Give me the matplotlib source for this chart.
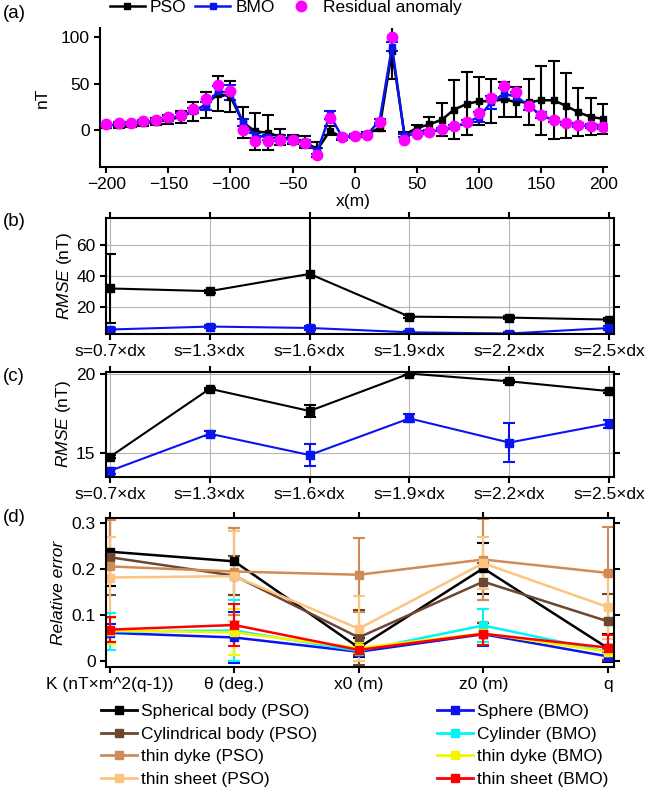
"""
Recreate the PSO / BMO comparison figure (four stacked panels)
"""
import numpy as np
from matplotlib import pyplot as plt
from matplotlib.lines import Line2D

# ---- panel (a): profile fit
x_prof = np.arange(-200, 201, 10)
resid = [6.5, 7, 8, 9.5, 11, 13.5, 16.5, 23, 33, 49, 42, 0, -12, -12, -11, -11, -14.5, -27, 13, -8,
         -6.5, -5, 9, 100, -11, -4, -2, 1, 4, 9, 18, 34, 47, 41, 26, 16, 11, 7, 5, 4, 3]
pso = [5, 5.5, 6, 7, 9, 11, 14, 20, 27, 39, 36, 8, -1.5, -3, -7.5, -10, -13, -21, -1, -8,
       -6.5, -5, 2.5, 85, -5, 2, 6, 11, 22, 28, 31, 31, 33, 30, 30, 32, 32, 26, 19, 14, 12]
pso_err = [3, 3, 3, 3, 4, 5, 6, 10, 14, 19, 17, 17, 20, 19, 9, 5, 6, 8, 5, 3,
           2, 3, 4, 30, 3, 3, 8, 18, 32, 34, 26, 24, 19, 16, 25, 37, 42, 35, 26, 20, 16]
bmo = [5.5, 6, 7, 8.5, 10, 12.5, 15.5, 21, 26, 42, 40, 8, -6, -8, -9, -11, -14, -23, 16, -8,
       -6.5, -5, 10, 90, -6, -4, -2, 0.5, 3, 8, 14, 30, 39, 36, 26, 16, 10.5, 7, 5, 4, 3]
bmo_err = [2, 2, 2, 2, 2, 3, 3, 3, 4, 5, 8, 4, 3, 3, 3, 3, 3, 3, 4, 2,
           2, 2, 2, 5, 2, 2, 2, 2, 2, 3, 5, 7, 6, 5, 4, 3, 2, 2, 2, 2, 2]

# ---- panels (b) and (c): RMSE vs window size
s_labels = ['s=0.7×dx', 's=1.3×dx', 's=1.6×dx', 's=1.9×dx', 's=2.2×dx', 's=2.5×dx']
rmse_b_pso = [32, 30.3, 41.4, 13.8, 13.2, 11.9]
rmse_b_pso_err = [22, 1, 40, 1, 1, 1]
rmse_b_bmo = [5.5, 7.4, 6.5, 3.7, 2.9, 6.5]
rmse_b_bmo_err = [1, 1, 1, 0.8, 0.8, 1]
rmse_c_pso = [14.78, 19.09, 17.68, 20.05, 19.56, 18.94]
rmse_c_pso_err = [0.1, 0.05, 0.4, 0.1, 0.1, 0.1]
rmse_c_bmo = [13.89, 16.24, 14.89, 17.21, 15.68, 16.88]
rmse_c_bmo_err = [0.2, 0.15, 0.7, 0.25, 1.25, 0.25]

# ---- panel (d): relative error per parameter
params = ['K (nT×m^2(q-1))', 'θ (deg.)', 'x0 (m)', 'z0 (m)', 'q']
sph_pso = [0.237, 0.216, 0.029, 0.201, 0.028]
sph_pso_err = [0.075, 0.072, 0.02, 0.055, 0.03]
cyl_pso = [0.225, 0.185, 0.051, 0.172, 0.086]
cyl_pso_err = [0.082, 0.042, 0.06, 0.04, 0.06]
dyke_pso = [0.205, 0.194, 0.187, 0.22, 0.191]
dyke_pso_err = [0.1, 0.095, 0.08, 0.088, 0.1]
sheet_pso = [0.181, 0.184, 0.07, 0.212, 0.117]
sheet_pso_err = [0.087, 0.098, 0.07, 0.056, 0.07]
sph_bmo = [0.061, 0.051, 0.02, 0.058, 0.01]
sph_bmo_err = [0.02, 0.055, 0.01, 0.025, 0.01]
cyl_bmo = [0.064, 0.066, 0.022, 0.077, 0.02]
cyl_bmo_err = [0.04, 0.067, 0.01, 0.035, 0.015]
dyke_bmo = [0.066, 0.062, 0.028, 0.06, 0.02]
dyke_bmo_err = [0.03, 0.05, 0.01, 0.025, 0.015]
sheet_bmo = [0.068, 0.078, 0.024, 0.059, 0.029]
sheet_bmo_err = [0.027, 0.045, 0.01, 0.024, 0.027]

W, H = 649, 796
FS = 12.5
plt.rcParams['font.family'] = ['Liberation Sans', 'DejaVu Sans']
plt.rcParams['font.size'] = FS
plt.rcParams['mathtext.fontset'] = 'custom'
plt.rcParams['mathtext.rm'] = 'Liberation Sans'
plt.rcParams['mathtext.it'] = 'Liberation Sans:italic'
plt.rcParams['axes.linewidth'] = 1.5


def box(left, top, right, bottom):
    """Axes rectangle from pixel edges"""
    return [left / W, 1 - bottom / H, (right - left) / W, (bottom - top) / H]


def style_ticks(ax, all_sides=True):
    ax.tick_params(direction='out', length=4, width=1.5, labelsize=FS,
                   top=all_sides, right=all_sides)


fig = plt.figure(figsize=(W / 100, H / 100), dpi=100)

# (a)
ax_a = fig.add_axes(box(100, 28, 607, 167))
ax_a.errorbar(x_prof, pso, yerr=pso_err, fmt='-s', color='black', ms=5, lw=1.8,
              elinewidth=1.5, capsize=4, capthick=1.5)
ax_a.errorbar(x_prof, bmo, yerr=bmo_err, fmt='-s', color='#0a14f0', ms=5, lw=1.8,
              elinewidth=1.5, capsize=4, capthick=1.5)
ax_a.plot(x_prof, resid, 'o', color='#ff00ff', ms=7.5, zorder=5)
ax_a.set_xlim(-205, 203)
ax_a.set_ylim(-40, 110)
ax_a.set_xticks([-200, -150, -100, -50, 0, 50, 100, 150, 200])
ax_a.set_yticks([0, 50, 100])
ax_a.spines['top'].set_visible(False)
ax_a.spines['right'].set_visible(False)
style_ticks(ax_a, all_sides=False)
ax_a.set_xlabel('x(m)', labelpad=1)
ax_a.set_ylabel('nT', labelpad=8)
handles = [Line2D([], [], color='black', marker='s', ms=5, lw=1.8),
           Line2D([], [], color='#0a14f0', marker='s', ms=5, lw=1.8),
           Line2D([], [], color='#ff00ff', marker='o', ms=7.5, lw=0)]
fig.legend(handles, ['PSO', 'BMO', 'Residual anomaly'], loc='upper left',
           bbox_to_anchor=(110 / W, 1.0), ncol=3, frameon=False, borderpad=0,
           borderaxespad=0, handlelength=2.0, handletextpad=0.3, columnspacing=0.5,
           fontsize=FS)

# (b) and (c)
for rect, pso_v, pso_e, bmo_v, bmo_e, ylim, yticks in [
        (box(106, 218, 614, 334), rmse_b_pso, rmse_b_pso_err, rmse_b_bmo, rmse_b_bmo_err,
         (2.6, 77.5), [20, 40, 60]),
        (box(106, 372, 614, 477), rmse_c_pso, rmse_c_pso_err, rmse_c_bmo, rmse_c_bmo_err,
         (13.5, 20.15), [15, 20])]:
    ax = fig.add_axes(rect)
    pos = np.arange(len(s_labels))
    ax.errorbar(pos, pso_v, yerr=pso_e, fmt='-s', color='black', ms=6, lw=1.5,
                elinewidth=1.5, capsize=4, capthick=1.5)
    ax.errorbar(pos, bmo_v, yerr=bmo_e, fmt='-s', color='#0a14f0', ms=6, lw=1.5,
                elinewidth=1.5, capsize=4, capthick=1.5)
    ax.set_xlim(-0.04, 5.05)
    ax.set_ylim(*ylim)
    ax.set_xticks(pos)
    ax.set_xticklabels(s_labels)
    ax.set_yticks(yticks)
    ax.grid(True, color='#b4b4b4', lw=0.8)
    ax.set_axisbelow(True)
    style_ticks(ax)
    ax.set_ylabel('$\\mathit{RMSE}$ (nT)', labelpad=2)

# (d)
ax_d = fig.add_axes(box(106, 518, 614, 667))
pos = np.arange(len(params))
series = [
    ('Spherical body (PSO)', sph_pso, sph_pso_err, 'black'),
    ('Cylindrical body (PSO)', cyl_pso, cyl_pso_err, '#6b4630'),
    ('thin dyke (PSO)', dyke_pso, dyke_pso_err, '#d08a56'),
    ('thin sheet (PSO)', sheet_pso, sheet_pso_err, '#fcc47e'),
    ('Sphere (BMO)', sph_bmo, sph_bmo_err, '#0a14f0'),
    ('Cylinder (BMO)', cyl_bmo, cyl_bmo_err, '#00f5f5'),
    ('thin dyke (BMO)', dyke_bmo, dyke_bmo_err, '#f5f500'),
    ('thin sheet (BMO)', sheet_bmo, sheet_bmo_err, '#ff0000'),
]
for name, vals, errs, col in series:
    ax_d.errorbar(pos, vals, yerr=errs, fmt='-s', color=col, ms=6, lw=1.8,
                  elinewidth=1.5, capsize=4, capthick=1.5)
ax_d.set_xlim(-0.03, 4.05)
ax_d.set_ylim(-0.013, 0.31)
ax_d.set_xticks(pos)
ax_d.set_xticklabels(params)
ax_d.set_yticks([0, 0.1, 0.2, 0.3])
ax_d.set_yticklabels(['0', '0.1', '0.2', '0.3'])
style_ticks(ax_d)
ax_d.set_ylabel('Relative error', fontstyle='italic', labelpad=4)

leg_handles = [Line2D([], [], color=c, marker='s', ms=6, lw=2) for _, _, _, c in series]
leg_names = [s[0] for s in series]
for names, hnd, x0 in [(leg_names[:4], leg_handles[:4], 101),
                       (leg_names[4:], leg_handles[4:], 437)]:
    fig.legend(hnd, names, loc='upper left', bbox_to_anchor=(x0 / W, 1 - 704 / H),
               frameon=False, borderpad=0, borderaxespad=0, handlelength=2.05,
               handletextpad=0.26, labelspacing=0.43, fontsize=FS)

# panel letters
for lab, y in [('(a)', 13), ('(b)', 222), ('(c)', 376), ('(d)', 517)]:
    fig.text(3 / W, 1 - y / H, lab, fontsize=FS + 1, va='center', ha='left')

fig.savefig('out.png', dpi=100)
